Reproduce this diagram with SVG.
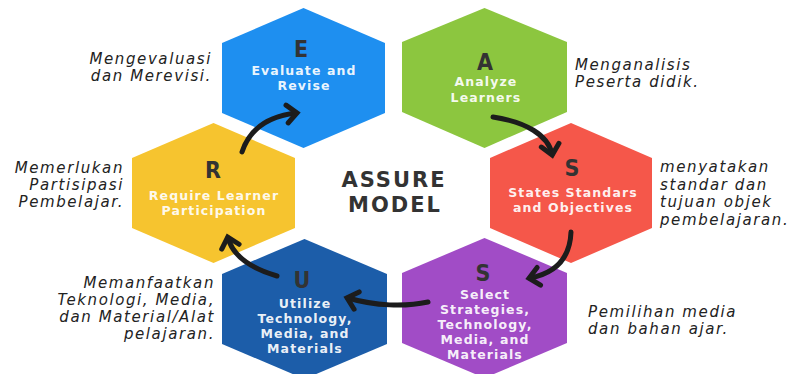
<svg xmlns="http://www.w3.org/2000/svg" width="793" height="374" viewBox="0 0 793 374">
<style>
.hex{stroke:none}
.letter{font-family:"DejaVu Sans Condensed","DejaVu Sans",sans-serif;font-weight:bold;font-size:23px;fill:#333;text-anchor:middle}
.lbl{font-family:"DejaVu Sans",sans-serif;font-weight:bold;font-size:12.5px;fill:#fff;fill-opacity:0.93;text-anchor:middle;letter-spacing:1.1px}
.side{font-family:"DejaVu Sans",sans-serif;font-style:italic;font-size:15px;fill:#222;letter-spacing:1.6px}
.end{text-anchor:end}
.title{font-family:"DejaVu Sans",sans-serif;font-weight:bold;font-size:21px;fill:#333;text-anchor:middle;letter-spacing:2px}
.arr{fill:none;stroke:#1c1c1c;stroke-width:5;stroke-linecap:round;marker-end:url(#head)}
</style>
<defs>
<marker id="head" markerUnits="userSpaceOnUse" orient="auto" markerWidth="30" markerHeight="30" refX="0" refY="0" viewBox="-15 -15 30 30">
<path d="M -9 -9 L 1 0 L -9 9" fill="none" stroke="#1c1c1c" stroke-width="5" stroke-linecap="round" stroke-linejoin="miter"/>
</marker>
</defs>
<rect width="793" height="374" fill="#fff"/>

<g id="node-E">
<polygon class="hex" fill="#1E8FF0" points="303.5,8 385,43 385,113 303.5,148 222,113 222,43"/>
<text class="letter" x="301" y="57">E</text>
<text class="lbl" x="304" y="75">Evaluate and</text>
<text class="lbl" x="304" y="90">Revise</text>
</g>

<g id="node-A">
<polygon class="hex" fill="#8CC63F" points="484.5,8 567,42 567,112 484.5,148 402,112 402,42"/>
<text class="letter" x="485" y="70">A</text>
<text class="lbl" x="486" y="86">Analyze</text>
<text class="lbl" x="486" y="102">Learners</text>
</g>

<g id="node-S1">
<polygon class="hex" fill="#F5574A" points="571,123 652,158 652,228 571,263 490,228 490,158"/>
<text class="letter" x="572" y="176">S</text>
<text class="lbl" x="573" y="197">States Standars</text>
<text class="lbl" x="573" y="212">and Objectives</text>
</g>

<g id="node-R">
<polygon class="hex" fill="#F6C42F" points="213.5,123 295,158 295,228 213.5,263 132,228 132,158"/>
<text class="letter" x="213" y="178">R</text>
<text class="lbl" x="214" y="200">Require Learner</text>
<text class="lbl" x="214" y="215">Participation</text>
</g>

<g id="node-S2">
<polygon class="hex" fill="#A14CC6" points="484.5,238 567,273 567,343 484.5,378 402,343 402,273"/>
<text class="letter" x="483" y="281">S</text>
<text class="lbl" x="485" y="299">Select</text>
<text class="lbl" x="485" y="314">Strategies,</text>
<text class="lbl" x="485" y="329">Technology,</text>
<text class="lbl" x="485" y="344">Media, and</text>
<text class="lbl" x="485" y="359">Materials</text>
</g>

<g id="node-U">
<polygon class="hex" fill="#1C5DA9" points="304.5,239 387,274 387,344 304.5,379 222,344 222,274"/>
<text class="letter" x="302" y="288">U</text>
<text class="lbl" x="305" y="308">Utilize</text>
<text class="lbl" x="305" y="323">Technology,</text>
<text class="lbl" x="305" y="338">Media, and</text>
<text class="lbl" x="305" y="353">Materials</text>
</g>

<g id="title">
<text class="title" x="394" y="187">ASSURE</text>
<text class="title" x="395" y="212">MODEL</text>
</g>

<g id="side-texts">
<text class="side end" x="212" y="64">Mengevaluasi</text>
<text class="side end" x="212" y="81">dan Merevisi.</text>
<text class="side end" x="124" y="173">Memerlukan</text>
<text class="side end" x="124" y="190">Partisipasi</text>
<text class="side end" x="124" y="207">Pembelajar.</text>
<text class="side end" x="215" y="288">Memanfaatkan</text>
<text class="side end" x="215" y="305">Teknologi, Media,</text>
<text class="side end" x="215" y="322">dan Material/Alat</text>
<text class="side end" x="215" y="339">pelajaran.</text>
<text class="side" x="575" y="70">Menganalisis</text>
<text class="side" x="575" y="87">Peserta didik.</text>
<text class="side" x="660" y="172">menyatakan</text>
<text class="side" x="660" y="190">standar dan</text>
<text class="side" x="660" y="207">tujuan objek</text>
<text class="side" x="660" y="225">pembelajaran.</text>
<text class="side" x="588" y="317">Pemilihan media</text>
<text class="side" x="588" y="334">dan bahan ajar.</text>
</g>

<g id="connectors">
<path class="arr" d="M 242 152 C 250 128, 270 116, 296 113"/>
<path class="arr" d="M 493 117 C 526 122, 548 135, 552 154"/>
<path class="arr" d="M 571 232 C 570 258, 556 273, 530 278"/>
<path class="arr" d="M 428 302 C 405 307, 375 306, 348 298"/>
<path class="arr" d="M 277 276 C 250 268, 233 256, 228 238"/>
</g>
</svg>
